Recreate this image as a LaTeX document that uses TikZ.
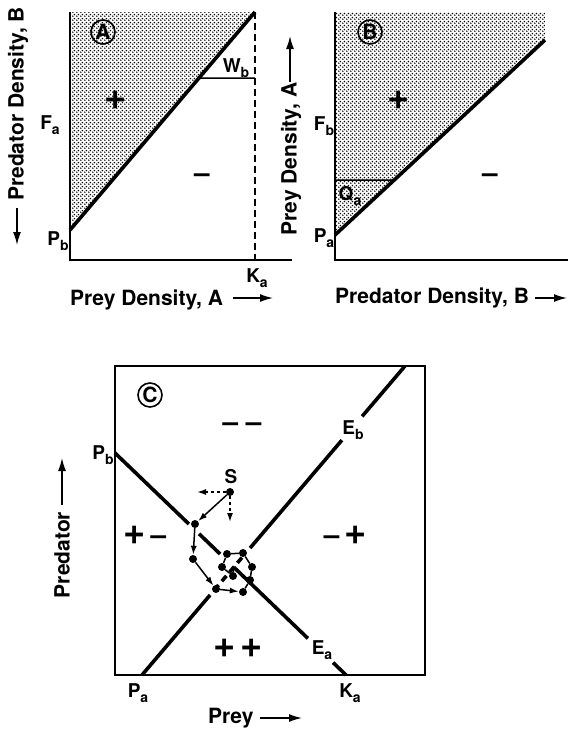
\documentclass[tikz,border=0pt]{standalone}
\usepackage{fontspec}
\setmainfont{TeX Gyre Heros}
\usetikzlibrary{patterns,arrows.meta,calc}

\pgfdeclarepatternformonly{stipple}{\pgfpointorigin}{\pgfqpoint{3.6pt}{3.6pt}}{\pgfqpoint{3.6pt}{3.6pt}}{%
  \pgfpathcircle{\pgfqpoint{0.9pt}{0.9pt}}{0.95pt}%
  \pgfpathcircle{\pgfqpoint{2.7pt}{2.7pt}}{0.95pt}%
  \pgfusepath{fill}}

\tikzset{
  axis/.style={line width=1.9pt},
  isocline/.style={line width=3.6pt},
  guide/.style={line width=1.5pt},
  lbl/.style={font=\fontsize{19}{19}\selectfont\bfseries, inner sep=0pt},
  axlbl/.style={font=\fontsize{21}{21}\selectfont\bfseries, inner sep=0pt},
  sign/.style={font=\fontsize{28}{28}\selectfont\bfseries, inner sep=0pt},
  panel/.style={draw, circle, line width=1.6pt, minimum size=24pt, inner sep=0pt,
    font=\fontsize{21}{21}\selectfont\bfseries},
  axarrow/.style={line width=1.5pt, -{Latex[length=13pt,width=8pt]}},
  state/.style={circle, fill, inner sep=0pt, minimum size=8pt},
  traj/.style={line width=1.5pt},
  trajarrow/.style={traj, -{Latex[length=9pt,width=6pt]}},
}
\newcommand{\lblsub}[2]{#1\raisebox{-0.45ex}{\fontsize{14}{14}\selectfont #2}}
\newcommand{\bigplus}{{\fontsize{38}{38}\selectfont +}}

\begin{document}
\begin{tikzpicture}[x=1pt,y=-1pt]
    \useasboundingbox (0,0) rectangle (568,729);

    % Panel A : prey isocline
    \coordinate (aTop) at (70,12);
    \coordinate (aO) at (70,260);
    \coordinate (aPb) at (70,230);
    \coordinate (aK) at (255,12);
    \coordinate (aKa) at (255,260);
    \fill[pattern=stipple] (aTop) -- (aK) -- (aPb) -- cycle;
    \draw[axis] (aTop) -- (aO) -- (292,260);
    \draw[guide, dash pattern=on 7pt off 4pt] (aK) -- (aKa);
    \draw[isocline] (aPb) -- (aK);
    \draw[guide] ($(aPb)!0.697!(aK)$) -- (255,78);

    \node[panel] (circA) at (103,32) {A};
    \node[sign] (plusA) at (116,100) {\bigplus};
    \node[sign] (minusA) at (202,178) {–};
    \node[lbl] (Fa) at (50,125) {\lblsub{F}{a}};
    \node[lbl] (PbA) at (58,241) {\lblsub{P}{b}};
    \node[lbl] (Wb) at (236,68) {\lblsub{W}{b}};
    \node[lbl] (KaA) at (257,278) {\lblsub{K}{a}};
    \node[axlbl, anchor=west] (xA) at (70,300) {Prey Density, A};
    \draw[axarrow] (233,298) -- (273,298);
    \node[axlbl, rotate=90] (yA) at (18,104) {Predator Density, B};
    \draw[axarrow] (17,208) -- (17,245);

    % Panel B : predator isocline
    \coordinate (bTop) at (335,12);
    \coordinate (bO) at (335,260);
    \coordinate (bPa) at (335,235);
    \coordinate (bEnd) at (545,40);
    \fill[pattern=stipple] (bTop) -- (545,12) -- (bEnd) -- (bPa) -- cycle;
    \draw[axis] (bTop) -- (bO) -- (568,260);
    \draw[isocline] (bPa) -- (bEnd);
    \draw[guide] (335,180) -- ($(bPa)!0.282!(bEnd)$);

    \node[panel] (circB) at (370,32) {B};
    \node[sign] (plusB) at (399,100) {\bigplus};
    \node[sign] (minusB) at (490,178) {–};
    \node[lbl] (Fb) at (324,126) {\lblsub{F}{b}};
    \node[lbl] (PaB) at (324,238) {\lblsub{P}{a}};
    \node[lbl] (Qa) at (350,196) {\lblsub{Q}{a}};
    \node[axlbl, anchor=west] (xB) at (335,298) {Predator Density, B};
    \draw[axarrow] (535,298) -- (567,298);
    \node[axlbl, rotate=90] (yB) at (291,159) {Prey Density, A};
    \draw[axarrow] (290,82) -- (290,36);

    % Panel C : both isoclines
    \draw[axis] (115,366) rectangle (425,675);
    \coordinate (cPb) at (115,453);
    \coordinate (cKa) at (346,675);
    \coordinate (cEb) at (405,366);
    \coordinate (cPa) at (142,675);
    \draw[isocline] (cPb) -- ($(cPb)!0.32!(cKa)$);
    \draw[isocline] ($(cPb)!0.364!(cKa)$) -- ($(cPb)!0.455!(cKa)$);
    \draw[isocline] ($(cPb)!0.515!(cKa)$) -- ($(cPb)!0.835!(cKa)$);
    \draw[isocline] ($(cPb)!0.944!(cKa)$) -- (cKa);
    \draw[isocline] (cEb) -- ($(cEb)!0.163!(cPa)$);
    \draw[isocline] ($(cEb)!0.240!(cPa)$) -- ($(cEb)!0.589!(cPa)$);
    \draw[isocline, dash pattern=on 7pt off 5pt] ($(cEb)!0.62!(cPa)$) -- ($(cEb)!0.735!(cPa)$);
    \draw[isocline] ($(cEb)!0.741!(cPa)$) -- (cPa);

    % trajectory from S
    \node[state] (s0) at (230,492) {};
    \node[state] (s1) at (195,524) {};
    \node[state] (s2) at (193,559) {};
    \node[state] (s3) at (216,589) {};
    \node[state] (s4) at (243,592) {};
    \node[state] (s5) at (250,580) {};
    \node[state] (s6) at (252,567) {};
    \node[state] (s7) at (243,553) {};
    \node[state] (s8) at (227,554) {};
    \node[state] (s9) at (222,567) {};
    \node[state] (s10) at (233,576) {};
    \coordinate (sLeft) at (197,492);
    \coordinate (sDown) at (230,522);
    \coordinate (sEnd) at (234,566);
    \draw[trajarrow, dashed] (s0) -- (sLeft);
    \draw[trajarrow, dashed] (s0) -- (sDown);
    \draw[trajarrow] (s0) -- (s1);
    \draw[trajarrow] (s1) -- (s2);
    \draw[trajarrow] (s2) -- (s3);
    \draw[trajarrow] (s3) -- (s4);
    \draw[traj] (s4) -- (s5) -- (s6) -- (s7) -- (s8) -- (s9) -- (s10) -- (sEnd);

    \node[panel] (circC) at (150,395) {C};
    \node[lbl] (S) at (231,477) {S};
    \node[sign] (mm) at (242,427) {– –};
    \node[sign] (pm) at (145,535) {\bigplus\,–};
    \node[sign] (mp) at (345,535) {–\,\bigplus};
    \node[sign] (pp) at (238,648) {\bigplus\,\bigplus};
    \node[lbl] (Eb) at (353,430) {\lblsub{E}{b}};
    \node[lbl] (Ea) at (322,650) {\lblsub{E}{a}};
    \node[lbl] (PbC) at (103,455) {\lblsub{P}{b}};
    \node[lbl] (PaC) at (138,693) {\lblsub{P}{a}};
    \node[lbl] (KaC) at (350,693) {\lblsub{K}{a}};
    \node[axlbl, anchor=west] (xC) at (208,718) {Prey};
    \draw[axarrow] (260,718) -- (302,718);
    \node[axlbl, rotate=90] (yC) at (62,555) {Predator};
    \draw[axarrow] (62,505) -- (62,458);
\end{tikzpicture}
\end{document}
